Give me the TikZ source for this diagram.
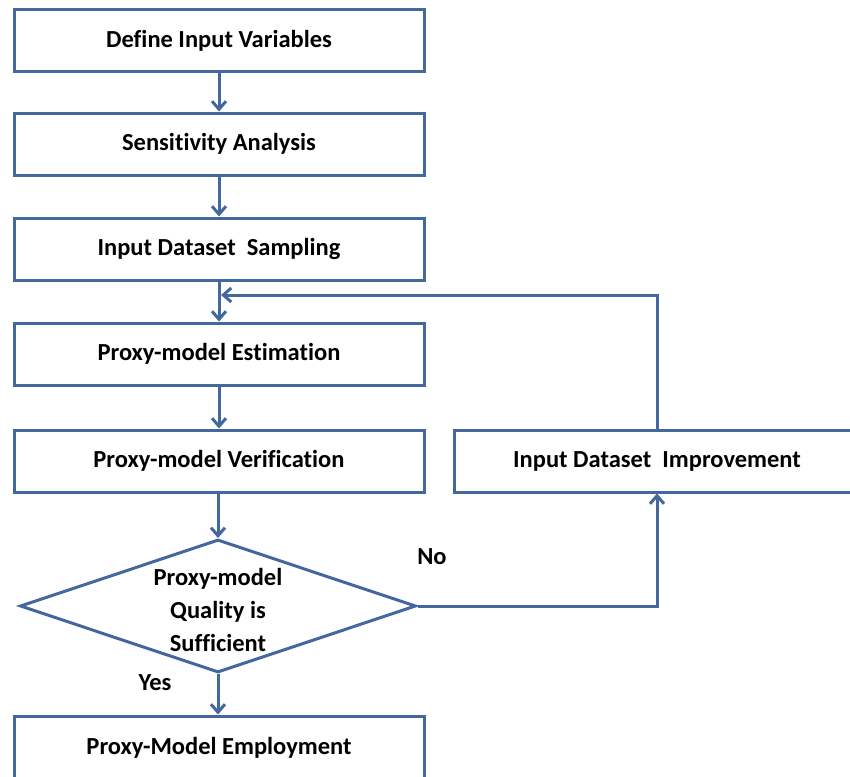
\documentclass[tikz,border=0pt]{standalone}
\usepackage{fontspec}
\setmainfont[Ligatures=NoCommon]{Carlito}
\usetikzlibrary{arrows.meta,shapes.geometric}
\definecolor{lineblue}{RGB}{66,104,158}
\begin{document}
\begin{tikzpicture}[x=1pt,y=-1pt,
  every node/.style={font=\fontsize{24.5}{33}\selectfont\bfseries},
  procbox/.style={draw=lineblue,line width=3pt,fill=white,rectangle,minimum width=410pt,minimum height=62pt,inner sep=0pt},
  decbox/.style={draw=lineblue,line width=3pt,fill=white,diamond,aspect=2.98,minimum width=396pt,minimum height=133pt,inner sep=0pt},
  flow/.style={draw=lineblue,line width=3pt,-{Straight Barb[length=8pt,width=14pt,line width=3pt]}},
  lbl/.style={inner sep=0pt}]
\useasboundingbox (0,0) rectangle (850,776);
\begin{scope}
\clip (0,0) rectangle (850,776);
\node[procbox] (define) at (219,40.5) {Define Input Variables};
\node[procbox] (sens) at (219,144) {Sensitivity Analysis};
\node[procbox] (samp) at (219,249) {Input Dataset~ Sampling};
\node[procbox] (est) at (219,354) {Proxy-model Estimation};
\node[procbox] (ver) at (219,461) {Proxy-model Verification};
\node[procbox,minimum width=406pt] (impr) at (657,461) {Input Dataset~ Improvement};
\node[decbox] (qual) at (218,606) {};
\node[lbl,align=center] (qualtext) at (218,610) {Proxy-model\\Quality is\\Sufficient};
\node[procbox,minimum height=64pt] (emp) at (219,748) {Proxy-Model Employment};
\coordinate (fbturn) at (657,295);
\coordinate (fbend) at (221,295);
\draw[flow] (define) -- (sens);
\draw[flow] (sens) -- (samp);
\draw[flow] (samp) -- (est);
\draw[flow] (est) -- (ver);
\draw[flow] (ver.south -| qual.north) -- (qual.north);
\draw[flow] (qual.south) -- (emp.north -| qual.south);
\draw[flow] (qual.east) -| (impr.south);
\draw[flow] (impr.north) -- (fbturn) -- (fbend);
\node[lbl] (no) at (432,557) {No};
\node[lbl] (yes) at (155,683) {Yes};
\end{scope}
\end{tikzpicture}
\end{document}
